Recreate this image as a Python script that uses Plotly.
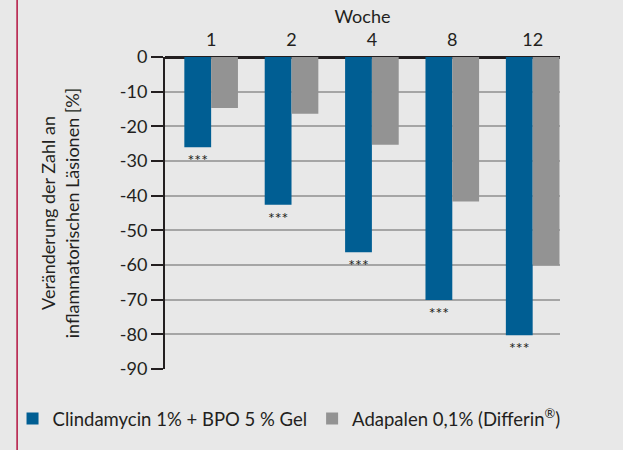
import plotly.graph_objects as go

weeks = ["1", "2", "4", "8", "12"]
clinda_bpo = [-26.0, -42.6, -56.3, -70.1, -80.3]
adapalen = [-14.7, -16.4, -25.3, -41.7, -60.1]
stars = ["***", "***", "***", "***", "***"]
y_ticks = [0, -10, -20, -30, -40, -50, -60, -70, -80, -90]

FONT = "Lato"
TXT = "#231f20"

fig = go.Figure()
fig.add_trace(go.Bar(
    x=weeks, y=clinda_bpo, name="Clindamycin 1% + BPO 5 % Gel",
    marker=dict(color="#005e93", line=dict(width=0)),
    text=stars, textposition="outside", cliponaxis=False,
    textfont=dict(family=FONT, size=16, color="#231f20"),
))
fig.add_trace(go.Bar(
    x=weeks, y=adapalen, name="Adapalen 0,1% (Differin<sup>®</sup>)",
    marker=dict(color="#939393", line=dict(width=0)),
))

fig.update_layout(
    width=623, height=450,
    margin=dict(l=162, r=63, t=57, b=81),
    paper_bgcolor="#e8e8e8", plot_bgcolor="#e8e8e8",
    font=dict(family=FONT, size=18, color=TXT),
    barmode="group", bargap=0.333, bargroupgap=0,
    showlegend=True,
    legend=dict(orientation="h", x=-0.386, xanchor="left", y=-0.16, yanchor="middle",
                font=dict(family=FONT, size=18.5, color=TXT),
                bgcolor="rgba(0,0,0,0)", itemwidth=30, traceorder="normal"),
    xaxis=dict(type="category", side="top", range=[-0.574, 4.34], automargin=False,
               showgrid=False, zeroline=False, showline=False, ticks="",
               ticklabelstandoff=6,
               tickfont=dict(size=18, color=TXT),
               title=dict(text="Woche", font=dict(size=18, color=TXT), standoff=0)),
    yaxis=dict(range=[-90, 0], tickvals=y_ticks, ticktext=[str(v) for v in y_ticks],
               automargin=False,
               showgrid=True, gridcolor="#a5a5a5", gridwidth=1.5,
               zeroline=True, zerolinecolor="#231f20", zerolinewidth=2.5,
               showline=True, linecolor="#231f20", linewidth=2,
               ticks="outside", ticklen=12, tickwidth=1.5, tickcolor="#231f20",
               tickfont=dict(size=18, color=TXT),
               title=dict(text="Veränderung der Zahl an<br>inflammatorischen Läsionen [%]",
                          font=dict(size=18, color=TXT), standoff=36)),
)

fig.add_shape(type="line", xref="paper", yref="paper",
              x0=-0.3744, x1=-0.3744, y0=-0.4, y1=1.4,
              line=dict(color="#b3123f", width=1.5))

fig.write_html("out.html", config={"displayModeBar": False},
               post_script="document.body.style.margin='0px';")
